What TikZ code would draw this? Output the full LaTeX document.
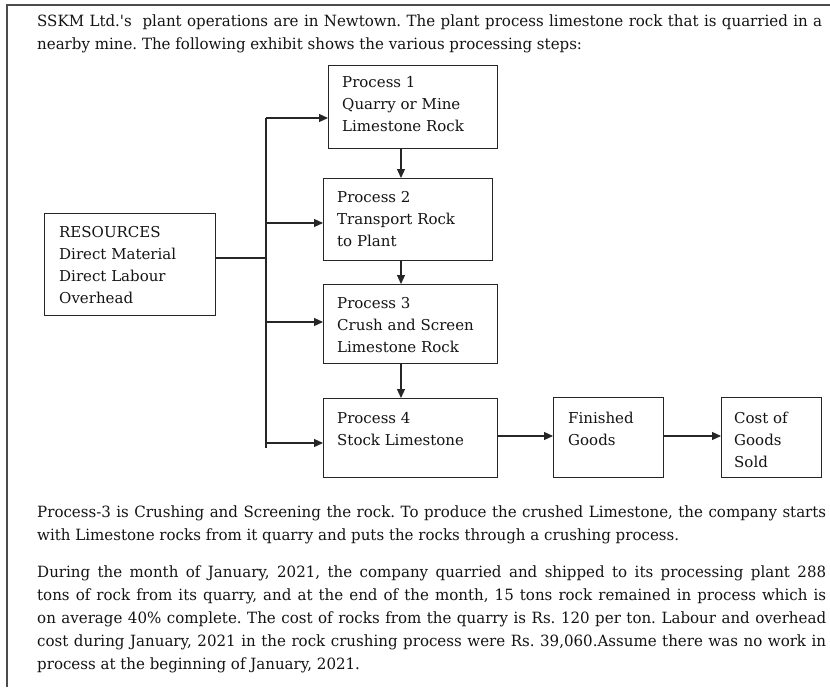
\documentclass[tikz,border=0pt]{standalone}
\usepackage{fontspec}
\setmainfont{DejaVu Serif}
\newfontfamily\bodyfont[FakeStretch=0.97]{DejaVu Serif}
\usetikzlibrary{arrows.meta}
\frenchspacing
\begin{document}
\begin{tikzpicture}[x=1pt,y=-1pt,
  box/.style={draw=black!85, line width=1.2pt, inner sep=0pt, anchor=north west},
  lbl/.style={anchor=base west, inner sep=0pt, font=\fontsize{15}{22}\selectfont, text=black!92},
  body/.style={anchor=base west, inner sep=0pt, font=\bodyfont\fontsize{15.5}{23}\selectfont, text=black!92},
  arr/.style={draw=black!85, line width=1.2pt, -{Triangle[length=9pt,width=8pt]}},
  ln/.style={draw=black!85, line width=1.2pt},
  frame/.style={draw=black!70, line width=1.4pt}]
\useasboundingbox (0,0) rectangle (830,696);
\fill[white] (0,0) rectangle (830,696);
% frame
\draw[frame] (7,687) -- (7,5) -- (830,5);
% top text
\node[body] (t1) at (37,26) {\makebox[785pt][s]{SSKM Ltd.'s\ \ plant operations are in Newtown. The plant process limestone rock that is quarried in a}};
\node[body] (t2) at (37,49) {nearby mine. The following exhibit shows the various processing steps:};
% boxes
\node[box, minimum width=171pt, minimum height=102pt] (res) at (44,213) {};
\node[box, minimum width=169pt, minimum height=83pt] (p1) at (328,65) {};
\node[box, minimum width=169pt, minimum height=82pt] (p2) at (323,178) {};
\node[box, minimum width=174pt, minimum height=79pt] (p3) at (323,284) {};
\node[box, minimum width=174pt, minimum height=79pt] (p4) at (323,398) {};
\node[box, minimum width=110pt, minimum height=80pt] (fg) at (553,397) {};
\node[box, minimum width=100pt, minimum height=80pt] (cgs) at (721,397) {};
% box labels
\node[lbl] (lres) at (59,237) {\vtop{\hbox{RESOURCES}\hbox{Direct Material}\hbox{Direct Labour}\hbox{Overhead}}};
\node[lbl] (lp1) at (342,87) {\vtop{\hbox{Process 1}\hbox{Quarry or Mine}\hbox{Limestone Rock}}};
\node[lbl] (lp2) at (337,202) {\vtop{\hbox{Process 2}\hbox{Transport Rock}\hbox{to Plant}}};
\node[lbl] (lp3) at (337,308) {\vtop{\hbox{Process 3}\hbox{Crush and Screen}\hbox{Limestone Rock}}};
\node[lbl] (lp4) at (337,423) {\vtop{\hbox{Process 4}\hbox{Stock Limestone}}};
\node[lbl] (lfg) at (568,423) {\vtop{\hbox{Finished}\hbox{Goods}}};
\node[lbl] (lcgs) at (734,423) {\vtop{\hbox{Cost of}\hbox{Goods}\hbox{Sold}}};
% bus
\coordinate (bt) at (266,118);
\coordinate (bb) at (266,448);
\coordinate (bm) at (266,258);
\coordinate (b2) at (266,223);
\coordinate (b3) at (266,322);
\coordinate (b4) at (266,443);
\coordinate (ax) at (401,0);
\coordinate (hy) at (0,436);
\draw[ln] (bt) -- (bb);
\draw[ln] (res.east |- bm) -- (bm);
\draw[arr] (bt) -- (bt -| p1.west);
\draw[arr] (b2) -- (b2 -| p2.west);
\draw[arr] (b3) -- (b3 -| p3.west);
\draw[arr] (b4) -- (b4 -| p4.west);
\draw[arr] (p1.south -| ax) -- (p2.north -| ax);
\draw[arr] (p2.south -| ax) -- (p3.north -| ax);
\draw[arr] (p3.south -| ax) -- (p4.north -| ax);
\draw[arr] (p4.east |- hy) -- (fg.west |- hy);
\draw[arr] (fg.east |- hy) -- (cgs.west |- hy);
% bottom text
\node[body] (u1) at (37,517) {\makebox[789pt][s]{Process-3 is Crushing and Screening the rock. To produce the crushed Limestone, the company starts}};
\node[body] (u2) at (37,540) {with Limestone rocks from it quarry and puts the rocks through a crushing process.};
\node[body] (v1) at (37,577) {\makebox[789pt][s]{During the month of January, 2021, the company quarried and shipped to its processing plant 288}};
\node[body] (v2) at (37,600) {\makebox[789pt][s]{tons of rock from its quarry, and at the end of the month, 15 tons rock remained in process which is}};
\node[body] (v3) at (37,623) {\makebox[789pt][s]{on average 40\% complete. The cost of rocks from the quarry is Rs. 120 per ton. Labour and overhead}};
\node[body] (v4) at (37,646) {\makebox[789pt][s]{cost during January, 2021 in the rock crushing process were Rs. 39,060.Assume there was no work in}};
\node[body] (v5) at (37,669) {process at the beginning of January, 2021.};
\end{tikzpicture}
\end{document}
